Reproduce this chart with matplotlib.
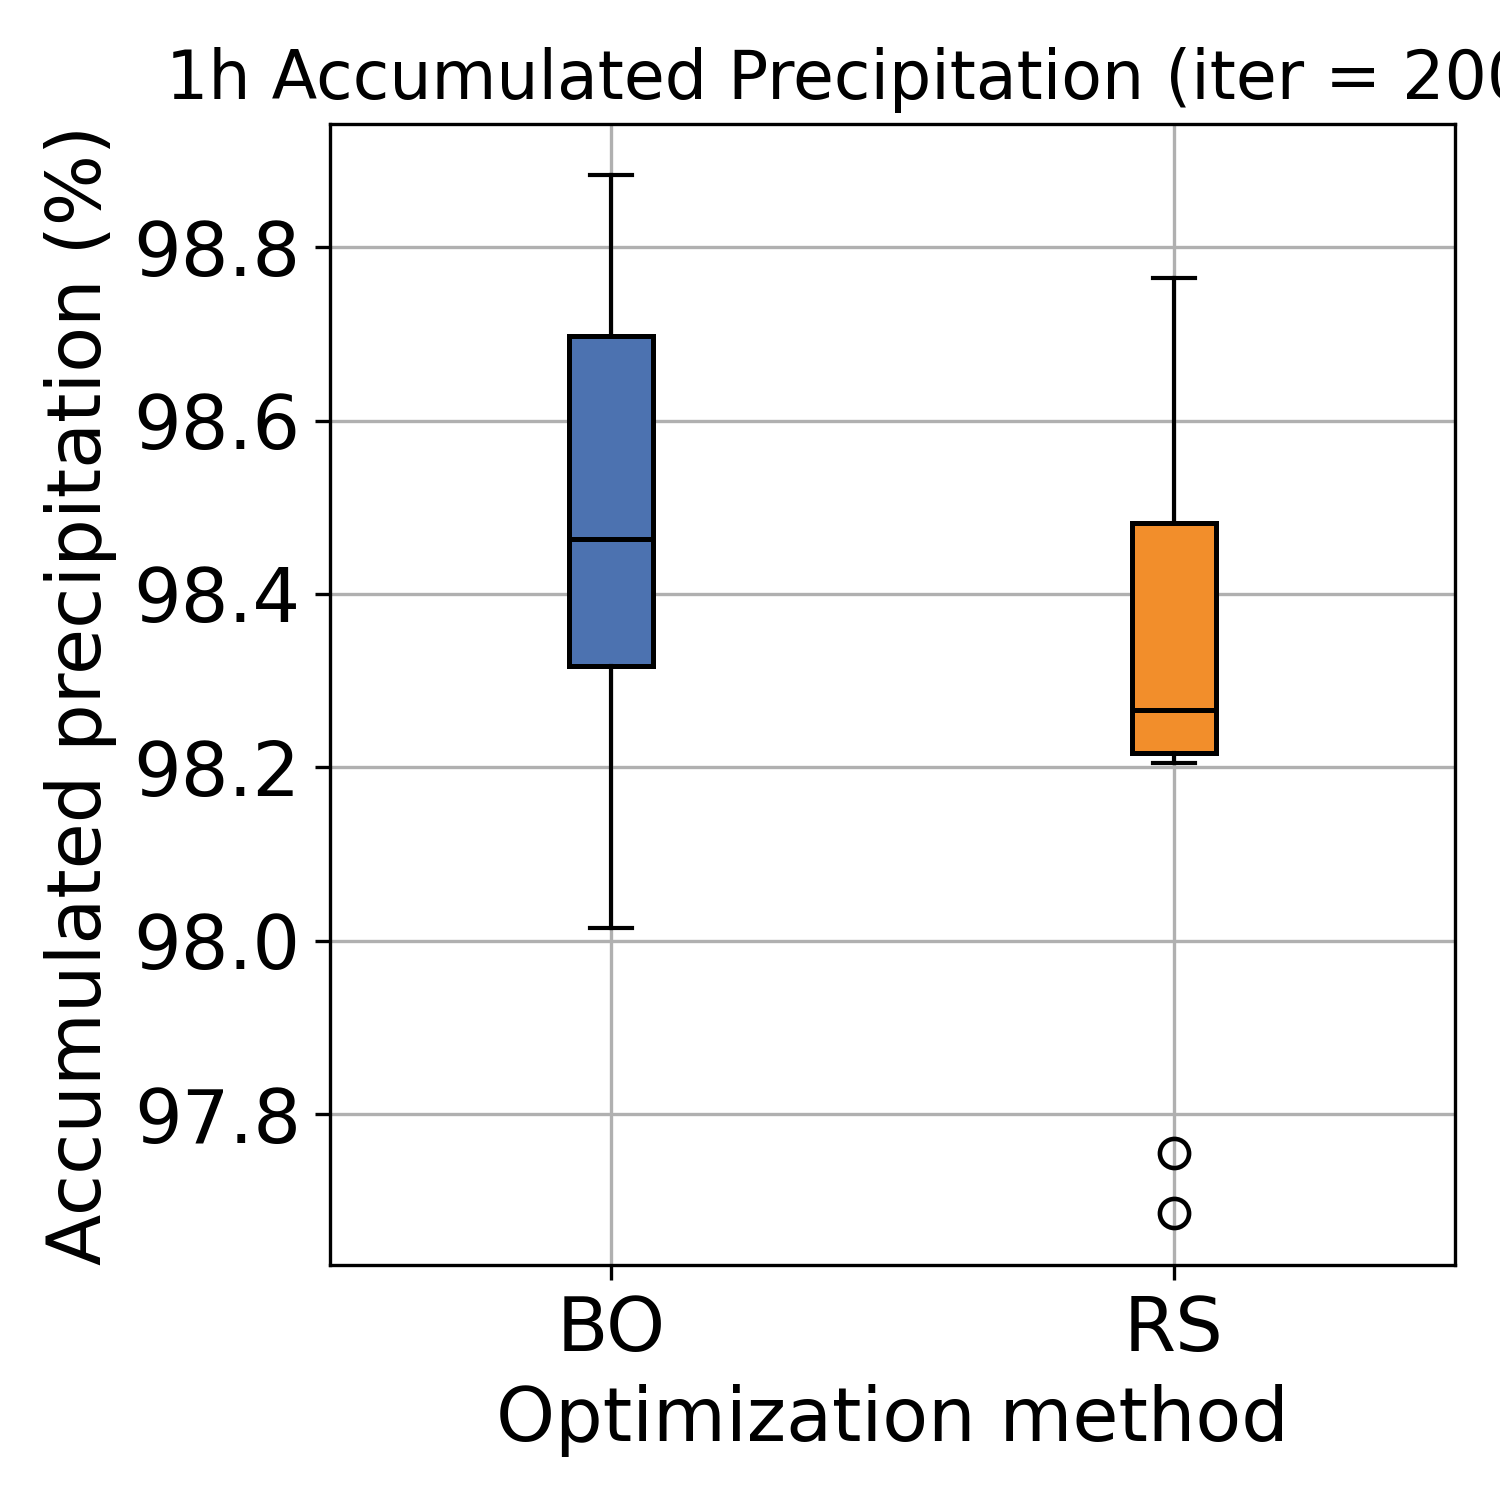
import matplotlib
matplotlib.use("Agg")
import matplotlib.pyplot as plt

methods = ["BO", "RS"]
whislo = [98.015, 98.205]
q1 = [98.317, 98.216]
med = [98.463, 98.266]
q3 = [98.697, 98.482]
whishi = [98.883, 98.764]
fliers = [[], [97.755, 97.686]]
colors = ["#4C72B0", "#F28E2B"]

stats = []
for i, m in enumerate(methods):
    stats.append(dict(label=m, whislo=whislo[i], q1=q1[i], med=med[i],
                      q3=q3[i], whishi=whishi[i], fliers=fliers[i]))

fig = plt.figure(figsize=(5, 5), dpi=300)
ax = fig.add_axes([330/1500, 1 - 1265/1500, 1125/1500, (1265-124)/1500])
bp = ax.bxp(stats, positions=[1, 2], widths=0.15, patch_artist=True,
            boxprops=dict(linewidth=1.2, edgecolor="black"),
            medianprops=dict(color="black", linewidth=1.2),
            whiskerprops=dict(linewidth=1.0, color="black"),
            capprops=dict(linewidth=1.0, color="black"),
            flierprops=dict(marker="o", markerfacecolor="none",
                            markeredgecolor="black", markersize=7,
                            markeredgewidth=1.1))
for patch, c in zip(bp["boxes"], colors):
    patch.set_facecolor(c)
ax.set_xlim(0.5, 2.5)
ax.set_ylim(97.626, 98.942)
ax.set_yticks([97.8, 98.0, 98.2, 98.4, 98.6, 98.8])
ax.grid(True, color="#b0b0b0", linewidth=0.8)
ax.set_axisbelow(True)
ax.tick_params(labelsize=18)
ax.set_xlabel("Optimization method", fontsize=18)
ax.set_ylabel("Accumulated precipitation (%)", fontsize=18)
ax.set_title("1h Accumulated Precipitation (iter = 200)", fontsize=16, x=0.4716)
fig.savefig("out.png", dpi=300)
